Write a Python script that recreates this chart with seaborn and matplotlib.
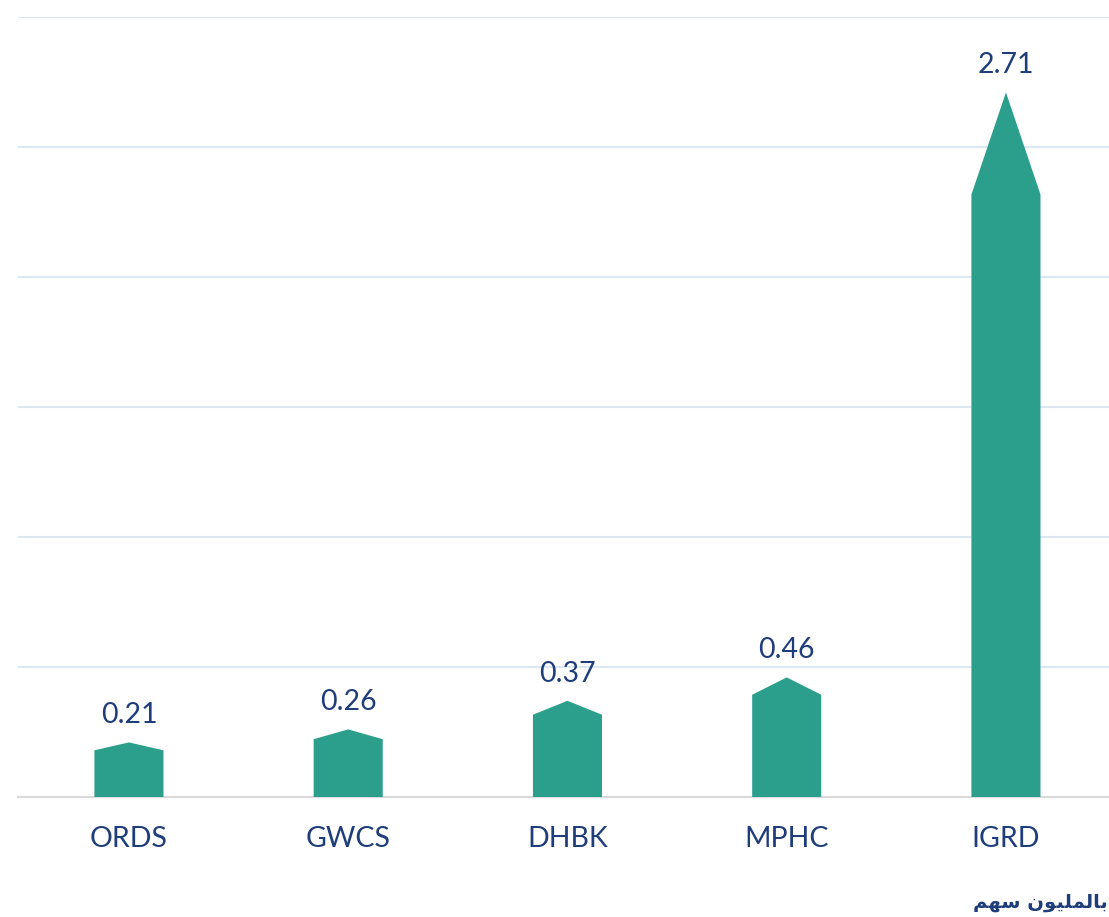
import matplotlib
matplotlib.use("Agg")
import matplotlib.pyplot as plt
from matplotlib.patches import Polygon
import seaborn as sns
import pandas as pd

# Data (million shares)
tickers = ["ORDS", "GWCS", "DHBK", "MPHC", "IGRD"]
volumes = [0.21, 0.26, 0.37, 0.46, 2.71]
value_labels = ["0.21", "0.26", "0.37", "0.46", "2.71"]
# "بالمليون سهم" pre-shaped (presentation forms, visual order) since matplotlib has no bidi shaping
unit_note = "\uFEE2\uFEEC\uFEB3 \uFEE5\uFEEE\uFEF4\uFEE0\uFEE4\uFEDF\uFE8E\uFE91"

BAR_COLOR = "#2B9E8C"
TEXT_COLOR = "#1F3D7A"
HEAD_FRAC = 0.145  # arrow head height as share of bar value

sns.set_theme(style="white")
plt.rcParams["font.family"] = ["Lato", "DejaVu Sans"]

df = pd.DataFrame({"ticker": tickers, "volume": volumes})

fig = plt.figure(figsize=(11.09, 9.17), dpi=100)
ax = fig.add_axes([18 / 1109, 120 / 917, 1 - 18 / 1109, 780 / 917])

sns.barplot(data=df, x="ticker", y="volume", color=BAR_COLOR, width=0.315,
            saturation=1, ax=ax)

# turn each rectangle into an arrow-topped pentagon
for patch, val, lab in zip(list(ax.patches), volumes, value_labels):
    x0 = patch.get_x()
    w = patch.get_width()
    shoulder = val * (1 - HEAD_FRAC)
    pts = [(x0, 0), (x0, shoulder), (x0 + w / 2, val), (x0 + w, shoulder), (x0 + w, 0)]
    patch.remove()
    ax.add_patch(Polygon(pts, closed=True, facecolor=BAR_COLOR, edgecolor="none", zorder=3))
    ax.annotate(lab, (x0 + w / 2, val), xytext=(0, 19), textcoords="offset pixels",
                ha="center", va="baseline", fontsize=20.5, color=TEXT_COLOR)

ax.set_xlim(-0.506, 4.47)
ax.set_ylim(0, 3.0)
ax.set_yticks([0.5, 1.0, 1.5, 2.0, 2.5, 3.0])
ax.yaxis.grid(True, color="#DDE7F2", linewidth=1.5)
ax.set_axisbelow(True)
ax.tick_params(axis="y", left=False, labelleft=False)
ax.tick_params(axis="x", bottom=False, labelsize=20.5, labelcolor=TEXT_COLOR, pad=15)
ax.set_xlabel("")
ax.set_ylabel("")
for side in ["top", "right", "left"]:
    ax.spines[side].set_visible(False)
ax.spines["bottom"].set_color("#D9D9D9")
ax.spines["bottom"].set_linewidth(1.5)

fig.text(1108 / 1109, 1 - 902 / 917, unit_note, ha="right", va="center",
         fontsize=14, fontweight="bold", color=TEXT_COLOR, family=["DejaVu Sans"])

fig.savefig("out.png", dpi=100, facecolor="white")
